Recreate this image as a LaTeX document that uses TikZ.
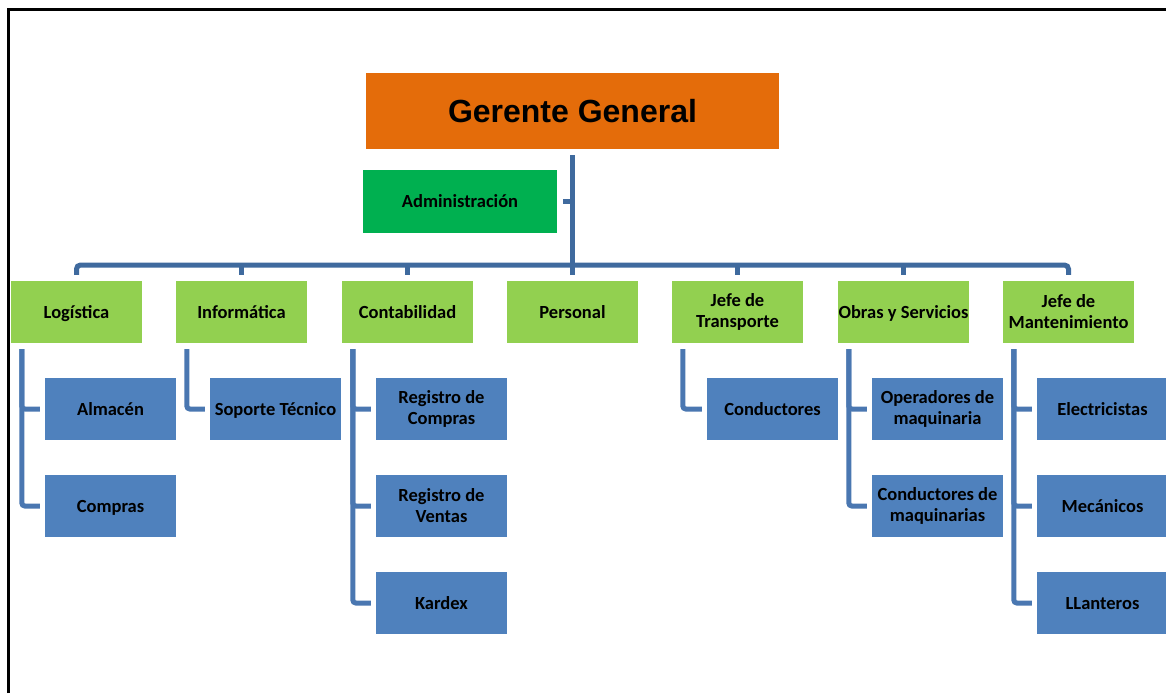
\documentclass[tikz,border=0pt]{standalone}
\usepackage{fontspec}
\setmainfont{Carlito}
\newfontfamily\arialfont{Liberation Sans}
\definecolor{orangebox}{HTML}{E46C0A}
\definecolor{admgreen}{HTML}{00B050}
\definecolor{lightgreen}{HTML}{92D050}
\definecolor{bluebox}{HTML}{4F81BD}
\definecolor{mainline}{HTML}{3F6A9E}
\definecolor{subline}{HTML}{4A77B1}
\tikzset{
  box/.style={rectangle, minimum width=131pt, minimum height=62pt, inner sep=0pt,
    align=center, font=\fontsize{18.5}{21}\selectfont\bfseries, text=black},
  oneline/.style={text height=12.5pt, text depth=0pt},
  lvlone/.style={box, fill=lightgreen},
  lvltwo/.style={box, fill=bluebox},
  conn/.style={draw=mainline, line width=5pt},
  subconn/.style={draw=subline, line width=5pt, rounded corners=3pt, shorten >=5pt},
}
\begin{document}
\begin{tikzpicture}[x=1pt,y=-1pt]
\useasboundingbox (0,0) rectangle (1166,693);
% frame
\draw[line width=3pt] (8,693) |- (1166,10);
% top
\node[rectangle, fill=orangebox, minimum width=413pt, minimum height=76pt, inner sep=0pt,
  text height=23pt, text depth=0pt,
  font=\arialfont\fontsize{32}{36}\selectfont\bfseries] (gg) at (572.5,111) {Gerente General};
\node[box, oneline, fill=admgreen, minimum width=194pt, minimum height=63pt] (adm) at (460,201.5) {Administración};
% level one
\node[lvlone, oneline] (log) at (76.5,312) {Logística};
\node[lvlone, oneline] (inf) at (241.5,312) {Informática};
\node[lvlone, oneline] (con) at (407.5,312) {Contabilidad};
\node[lvlone, oneline] (per) at (572.5,312) {Personal};
\node[lvlone] (tra) at (737.5,312) {Jefe de\\Transporte};
\node[lvlone, oneline] (obr) at (903.5,312) {Obras y Servicios};
\node[lvlone] (man) at (1068.5,312) {Jefe de\\Mantenimiento};
% level two
\node[lvltwo, oneline] (alm) at (110.5,409) {Almacén};
\node[lvltwo, oneline] (com) at (110.5,506) {Compras};
\node[lvltwo, oneline] (sop) at (275.5,409) {Soporte Técnico};
\node[lvltwo] (rco) at (441.5,409) {Registro de\\Compras};
\node[lvltwo] (rve) at (441.5,506) {Registro de\\Ventas};
\node[lvltwo, oneline] (kar) at (441.5,603) {Kardex};
\node[lvltwo, oneline] (cdt) at (772.5,409) {Conductores};
\node[lvltwo] (ope) at (937.5,409) {Operadores de\\maquinaria};
\node[lvltwo] (cma) at (937.5,506) {Conductores de\\maquinarias};
\node[lvltwo, oneline] (ele) at (1102.5,409) {Electricistas};
\node[lvltwo, oneline] (mec) at (1102.5,506) {Mecánicos};
\node[lvltwo, oneline] (lla) at (1102.5,603) {LLanteros};
% main connectors
\coordinate (bar) at (572.5,265);
\draw[conn, shorten <=6pt, shorten >=6pt] (gg.south) -- (per.north);
\draw[conn, shorten <=6pt] (adm.east) -- (adm.east -| gg.south);
\draw[conn, rounded corners=4pt, shorten <=6pt, shorten >=6pt] (log.north) -- (log.north |- bar) -- (man.north |- bar) -- (man.north);
\foreach \n in {inf,con,tra,obr}{
  \draw[conn, shorten >=6pt] (\n.north |- bar) -- (\n.north);
}
% sub connectors
\foreach \p/\c in {log/alm, log/com, inf/sop, con/rco, con/rve, con/kar, tra/cdt, obr/ope, obr/cma, man/ele, man/mec, man/lla}{
  \draw[subconn] ([xshift=11pt, yshift=-6pt]\p.south west) |- (\c.west);
}
\end{tikzpicture}
\end{document}
